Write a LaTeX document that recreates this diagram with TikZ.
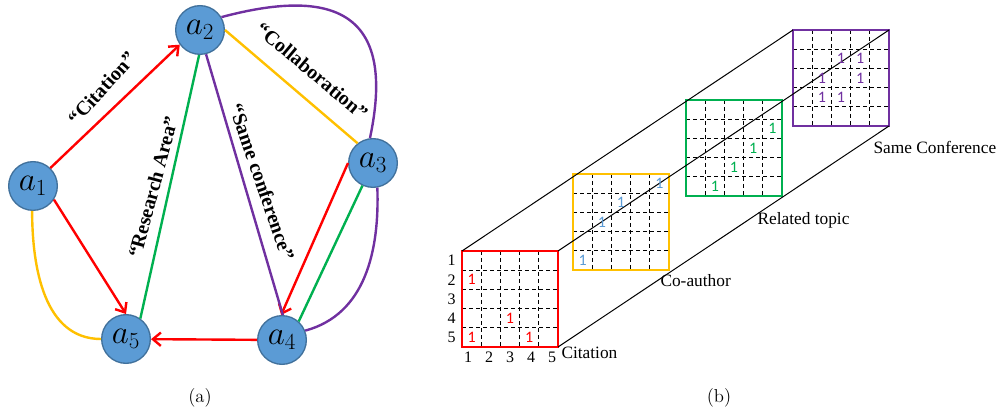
\documentclass[tikz,border=0pt]{standalone}
\usepackage{fontspec}
\newfontfamily\serifrm{Liberation Serif}
\newfontfamily\calib{Carlito}
\usetikzlibrary{arrows.meta,shapes.geometric}

\definecolor{citered}{RGB}{255,0,0}
\definecolor{coauyel}{RGB}{255,192,0}
\definecolor{topicgrn}{RGB}{0,176,80}
\definecolor{confpur}{RGB}{112,48,160}
\definecolor{nodeblue}{RGB}{91,155,213}
\definecolor{nodeedge}{RGB}{65,113,156}

\tikzset{every picture/.style={line width=0.75pt}}
\tikzset{
  author/.style={circle, fill=nodeblue, draw=nodeedge, line width=1pt, minimum size=36.5pt, inner sep=0pt, font=\fontsize{23}{26}\selectfont},
  rel/.style={line width=1.8pt},
  arr/.style={-{Straight Barb[length=6pt,width=10pt]}},
  rellabel/.style={inner sep=0.75pt, font=\fontsize{15}{18}\serifrm\bfseries},
  sq/.style={draw, line width=1.5pt, minimum size=72pt, inner sep=0pt, outer sep=0pt},
  cell/.style={dash pattern={on 3pt off 2.25pt}, line width=0.75pt},
  one/.style={inner sep=0pt, font=\fontsize{12}{14}\calib},
  idx/.style={inner sep=0pt, font=\fontsize{12}{14}\serifrm},
  layer/.style={inner sep=0pt, anchor=west, font=\fontsize{13}{15}\serifrm},
  caption/.style={inner sep=0pt, font=\fontsize{14}{16}\selectfont},
}

\begin{document}
\begin{tikzpicture}[x=0.75pt,y=0.75pt,yscale=-1,xscale=1]
	\useasboundingbox (0,0) rectangle (998,416);
	
	% Authors
	\node[author] (a1) at (33,186) {$a_1$};
	\node[author] (a2) at (200,30) {$a_2$};
	\node[author] (a3) at (373,163) {$a_3$};
	\node[author] (a4) at (282,340) {$a_4$};
	\node[author] (a5) at (126,339) {$a_5$};
	
	%Citation
	\draw[rel, citered, arr] (a1.46) -- (a2.216);
	\draw[rel, citered, arr] (a1.-33) -- (a5.90);
	\draw[rel, citered, arr] (a3.180) -- (a4.92);
	\draw[rel, citered, arr] (a4) -- (a5);
	%Collaboration
	\draw[rel, coauyel] (a2.0) -- (a3.128);
	\draw[rel, coauyel] (a1.-92) to[out=90,in=180] (a5.180);
	%Research area
	\draw[rel, topicgrn] (a5.55) -- (a2.268);
	\draw[rel, topicgrn] (a3.245) -- (a4.48);
	%Same conference
	\draw[rel, confpur] (a2.31) to[out=-15,in=-78,looseness=1.65] (a3.97);
	\draw[rel, confpur] (a2.284) -- (a4.88);
	\draw[rel, confpur] (a3.280) to[out=88,in=-15] (a4.22);
	
	% Text Node
	\node[rellabel, rotate=48] (lcit) at (101.7,88.3) {“Citation”};
	\node[rellabel, rotate=75] (lres) at (153,187) {“Research Area”};
	\node[rellabel, rotate=-71] (lsame) at (262,182) {“Same conference”};
	\node[rellabel, rotate=-40] (lcol) at (312,71) {“Collaboration”};
	
	% Layers
	\foreach \ox/\oy/\cl/\nm in {462/251/citered/cit, 573/174/coauyel/coa, 686/100/topicgrn/top, 793/30/confpur/conf} {
		\foreach \k in {1,...,4} {
			\draw[cell] (\ox+\k*19.2,\oy) -- (\ox+\k*19.2,\oy+96);
			\draw[cell] (\ox,\oy+\k*19.2) -- (\ox+96,\oy+\k*19.2);
		}
		\node[sq, draw=\cl] (sq\nm) at (\ox+48,\oy+48) {};
	}
	
	%Straight Lines
	\draw (sqcit.north west) -- (sqconf.north west);
	\draw (sqcit.north east) -- (sqconf.north east);
	\draw (sqcit.south east) -- (sqconf.south east);
	
	% Entries
	\foreach \r/\c in {2/1,4/3,5/1,5/4}
		\node[one, text=citered] (cit\r\c) at (452.4+\c*19.2,241.4+\r*19.2) {1};
	\foreach \r/\c in {1/5,2/3,3/2,5/1}
		\node[one, text=nodeblue] (coa\r\c) at (563.4+\c*19.2,164.4+\r*19.2) {1};
	\foreach \r/\c in {2/5,3/4,4/3,5/2}
		\node[one, text=topicgrn] (top\r\c) at (676.4+\c*19.2,90.4+\r*19.2) {1};
	\foreach \r/\c in {2/3,2/4,3/2,3/4,4/2,4/3}
		\node[one, text=confpur] (conf\r\c) at (783.4+\c*19.2,20.4+\r*19.2) {1};
	
	% Indices
	\foreach \k in {1,...,5} {
		\node[idx] (row\k) at (451.5,241.4+\k*19.2) {\k};
		\node[idx] (col\k) at (447+\k*21,357) {\k};
	}
	
	% Text Node
	\node[layer] (tcit) at (561,353) {Citation};
	\node[layer] (tcoa) at (660,281) {Co-author};
	\node[layer] (ttop) at (757,220) {Related topic};
	\node[layer] (tconf) at (873,147) {Same Conference};
	
	\node[caption] (capa) at (200,398) {(a)};
	\node[caption] (capb) at (719,398) {(b)};
\end{tikzpicture}
\end{document}
